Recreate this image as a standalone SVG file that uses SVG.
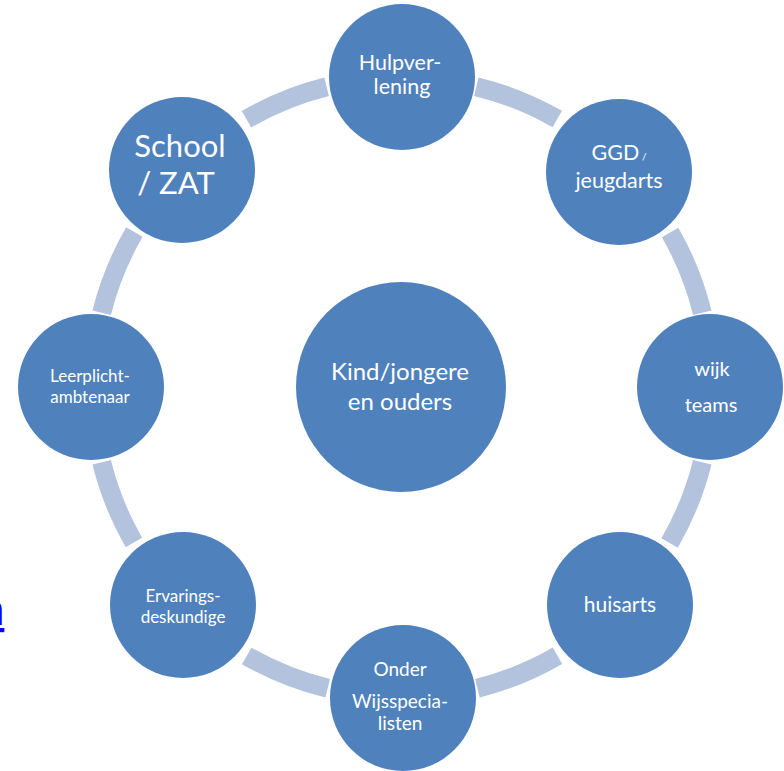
<svg xmlns="http://www.w3.org/2000/svg" width="784" height="771" viewBox="0 0 784 771">
<style>
.arc{fill:none;stroke:#b3c3de;stroke-width:19;stroke-linecap:butt}
.node{fill:#4f81bd}
text{font-family:Lato,"Open Sans","Liberation Sans",sans-serif;fill:#fff;text-anchor:middle}
</style>
<rect width="784" height="771" fill="#fff"/>
<g id="connectors">
<path class="arc" d="M 476.3 86.7 A 310 310 0 0 1 557.3 119.1"/>
<path class="arc" d="M 670.1 232.5 A 310 310 0 0 1 702.3 312.7"/>
<path class="arc" d="M 702.3 462.3 A 310 310 0 0 1 669.6 542.9"/>
<path class="arc" d="M 557.5 655.7 A 310 310 0 0 1 477.4 688.2"/>
<path class="arc" d="M 327.7 688.3 A 310 310 0 0 1 246.7 655.9"/>
<path class="arc" d="M 133.9 542.5 A 310 310 0 0 1 101.7 462.3"/>
<path class="arc" d="M 101.7 312.7 A 310 310 0 0 1 134.4 232.1"/>
<path class="arc" d="M 246.5 119.3 A 310 310 0 0 1 326.6 86.8"/>
</g>
<g id="n-center"><circle class="node" cx="401" cy="387" r="105"/>
<text font-size="24" x="400" y="380">Kind/jongere</text><text font-size="24" x="400" y="410">en ouders</text></g>
<g id="n-hulp"><circle class="node" cx="402" cy="77" r="73"/>
<text font-size="21.5" x="400" y="70">Hulpver-</text><text font-size="21.5" x="402" y="94">lening</text></g>
<g id="n-ggd"><circle class="node" cx="619" cy="172" r="73"/>
<text font-size="21.5" x="619" y="160">GGD<tspan font-size="10"> /</tspan></text><text font-size="21.5" x="619" y="188">jeugdarts</text></g>
<g id="n-wijk"><circle class="node" cx="710" cy="387" r="73"/>
<text font-size="20" x="712" y="376">wijk</text><text font-size="20" x="711" y="412">teams</text></g>
<g id="n-huisarts"><circle class="node" cx="620" cy="605" r="73"/>
<text font-size="21" x="620" y="612">huisarts</text></g>
<g id="n-onder"><circle class="node" cx="403" cy="698" r="73"/>
<text font-size="19" x="400" y="676">Onder</text><text font-size="19" x="400" y="708">Wijsspecia-</text><text font-size="19" x="400" y="730">listen</text></g>
<g id="n-ervarings"><circle class="node" cx="183" cy="605" r="73"/>
<text font-size="17" x="183" y="602">Ervarings-</text><text font-size="17" x="183" y="623">deskundige</text></g>
<g id="n-leerplicht"><circle class="node" cx="91" cy="387" r="73"/>
<text font-size="17" x="90" y="382">Leerplicht-</text><text font-size="17" x="90" y="403">ambtenaar</text></g>
<g id="n-school"><circle class="node" cx="182" cy="170" r="73"/>
<text font-size="31" x="180" y="157">School</text><text font-size="31" x="176" y="194">/ ZAT</text></g>
<text x="-19" y="625" font-size="42" style="font-family:'Liberation Sans',sans-serif;fill:#0000ff;text-anchor:start;text-decoration:underline">n</text>
</svg>
